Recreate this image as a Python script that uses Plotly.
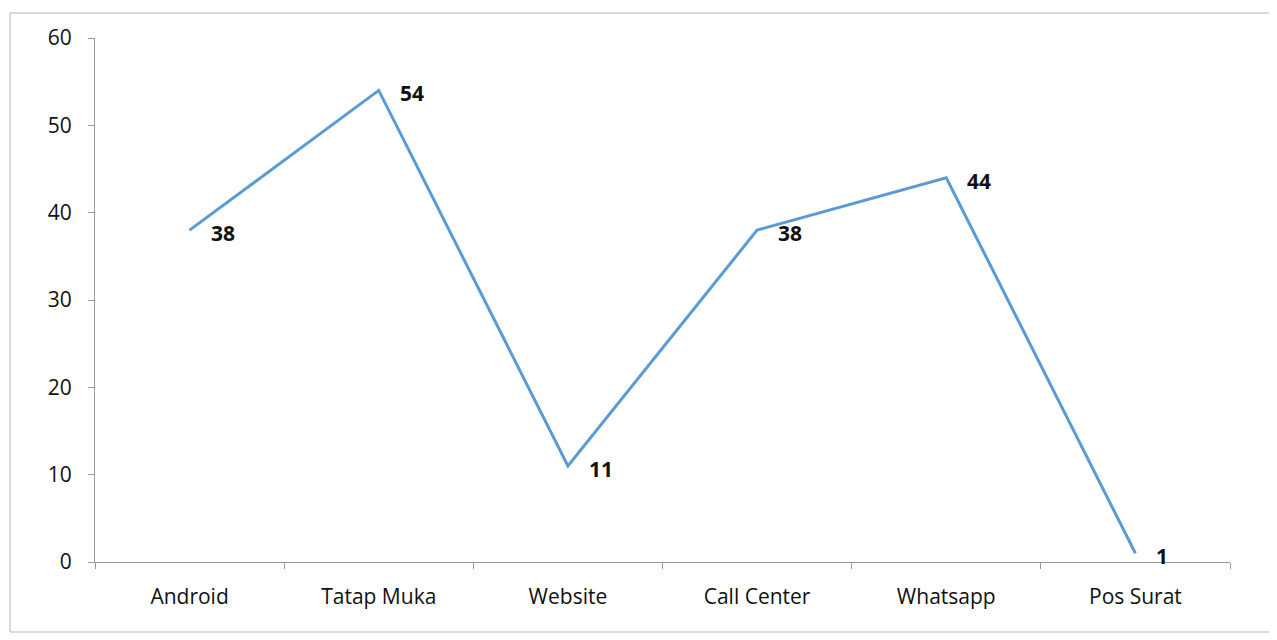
import plotly.graph_objects as go

# channel counts
categories = ["Android", "Tatap Muka", "Website", "Call Center", "Whatsapp", "Pos Surat"]
values = [38, 54, 11, 38, 44, 1]
y_ticks = [0, 10, 20, 30, 40, 50, 60]

line_color = "#5B9BD5"
axis_color = "#9a9a9a"
text_color = "#111111"
font_family = "Open Sans, Noto Sans, sans-serif"

fig = go.Figure()

fig.add_trace(
    go.Scatter(
        x=categories,
        y=values,
        mode="lines",
        line=dict(color=line_color, width=3),
        showlegend=False,
        hoverinfo="x+y",
    )
)

# data labels to the right of each point, Excel style
for cat, val in zip(categories, values):
    fig.add_annotation(
        x=cat,
        y=val,
        text=f"<b>{val}</b>",
        showarrow=False,
        xanchor="left",
        yanchor="middle",
        xshift=19,
        yshift=-3,
        font=dict(size=21, color=text_color, family=font_family),
    )

fig.update_xaxes(
    type="category",
    range=[-0.5, len(categories) - 0.5],
    showline=True,
    linecolor=axis_color,
    linewidth=1,
    ticks="outside",
    tickson="boundaries",
    ticklen=6,
    tickcolor=axis_color,
    ticklabelstandoff=16,
    showgrid=False,
    zeroline=False,
    tickfont=dict(size=21, color=text_color, family=font_family),
)

fig.update_yaxes(
    range=[0, 60],
    tickvals=y_ticks,
    showline=True,
    linecolor=axis_color,
    linewidth=1,
    ticks="outside",
    ticklen=6,
    tickcolor=axis_color,
    ticklabelstandoff=12,
    showgrid=False,
    zeroline=False,
    tickfont=dict(size=21, color=text_color, family=font_family),
)

# chart frame
fig.add_shape(
    type="rect",
    xref="paper", yref="paper",
    x0=-85 / 1135, x1=1 + 40 / 1135,
    y0=-70 / 524, y1=1 + 25 / 524,
    line=dict(color="#b5b5b5", width=1),
)

fig.update_layout(
    width=1277,
    height=640,
    margin=dict(l=87, r=55, t=30, b=86),
    paper_bgcolor="white",
    plot_bgcolor="white",
    font=dict(family=font_family),
)

fig.write_html("out.html")
